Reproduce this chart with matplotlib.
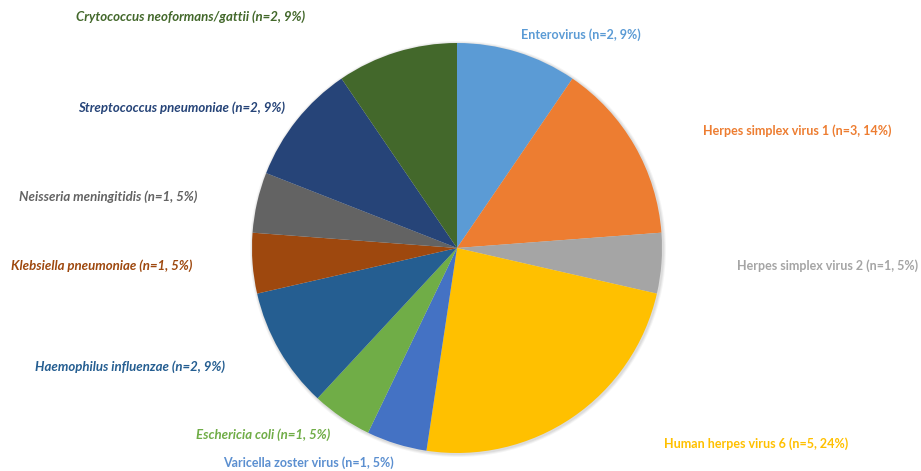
import matplotlib.pyplot as plt

# pathogen counts, clockwise from 12 o'clock
names = ["Enterovirus", "Herpes simplex virus 1", "Herpes simplex virus 2",
         "Human herpes virus 6", "Varicella zoster virus", "Eschericia coli",
         "Haemophilus influenzae", "Klebsiella pneumoniae", "Neisseria meningitidis",
         "Streptococcus pneumoniae", "Crytococcus neoformans/gattii"]
counts = [2, 3, 1, 5, 1, 1, 2, 1, 1, 2, 2]
# percentages as printed on the original labels
percents = [9, 14, 5, 24, 5, 5, 9, 5, 5, 9, 9]
italic = [False, False, False, False, False, True, True, True, True, True, True]
colors = ["#5B9BD5", "#ED7D31", "#A5A5A5", "#FFC000", "#4472C4", "#70AD47",
          "#255E91", "#9E480E", "#636363", "#264478", "#43682B"]
text_colors = ["#5B9BD5", "#ED7D31", "#A5A5A5", "#FFC000", "#5B8FD0", "#70AD47",
               "#255E91", "#9E480E", "#636363", "#264478", "#43682B"]

# label centres in pixel coordinates (Excel "best fit" layout)
label_pos = [(581, 35), (797, 131), (828, 266), (756, 444), (308, 463), (263, 435),
             (130, 367), (102, 266), (108, 197), (182, 108), (191, 17)]

W, H = 921, 471
fig = plt.figure(figsize=(W / 100, H / 100), dpi=100)
ax = fig.add_axes([0, 0, 1, 1])

cx, cy, r = 457, 248, 205

# soft shadow under the pie
for i, a in enumerate([0.05, 0.05, 0.04]):
    ax.add_patch(plt.Circle((cx + 1, cy + 1), r + 1 + i, color="#000000", alpha=a, lw=0))

# y axis is flipped, so counterclock=True gives clockwise on screen
ax.pie(counts, colors=colors, startangle=-90, counterclock=True,
       center=(cx, cy), radius=r, frame=True,
       wedgeprops=dict(linewidth=0))
ax.set_xlim(0, W)
ax.set_ylim(H, 0)
ax.set_aspect("equal")
ax.axis("off")

for name, n, p, it, c, (x, y) in zip(names, counts, percents, italic, text_colors, label_pos):
    ax.text(x, y, f"{name} (n={n}, {p}%)", color=c, ha="center", va="center",
            fontsize=9.5 if it else 9, fontweight="bold", family="Lato",
            style="italic" if it else "normal")

fig.savefig("out.png", dpi=100)
